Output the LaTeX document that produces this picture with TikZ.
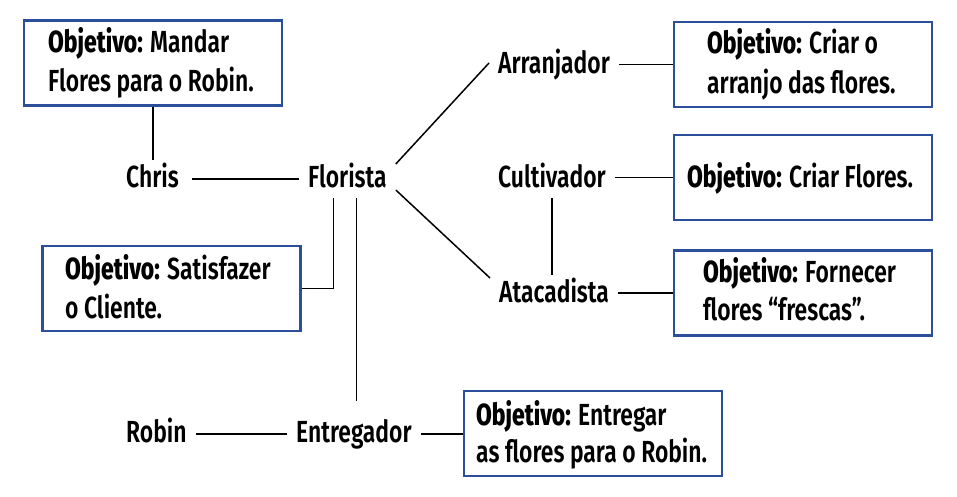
\documentclass[tikz,border=0pt]{standalone}
\usepackage{fontspec}
\setmainfont{Fira Sans}[FakeStretch=0.75, UprightFont=* SemiBold, BoldFont=* ExtraBold]
\definecolor{boxblue}{RGB}{43,79,155}
\begin{document}
\begin{tikzpicture}[x=1pt,y=-1pt,
  lbl/.style={font=\fontsize{30.5}{39}\selectfont, inner xsep=9pt, inner ysep=6pt, text height=21pt, text depth=5pt, anchor=base west},
  btxt/.style={font=\fontsize{30.5}{39}\selectfont, inner sep=0pt, anchor=base west},
  goal/.style={draw=boxblue, line width=2.5pt, minimum width=258pt, minimum height=85pt, inner sep=0pt},
  conn/.style={line width=1.5pt, black}]
\useasboundingbox (0,0) rectangle (957,497);
% goal boxes
\node[goal] (b1) at (153,63) {};
\node[goal] (b2) at (171.5,288.5) {};
\node[goal] (b3) at (803,64.5) {};
\node[goal] (b4) at (803,177.5) {};
\node[goal] (b5) at (803,293) {};
\node[goal] (b6) at (593,433.5) {};
% box texts
\node[btxt] (b1a) at (48,53) {\textbf{Objetivo:} Mandar};
\node[btxt] (b1b) at (48,92) {Flores para o Robin.};
\node[btxt] (b2a) at (65,279) {\textbf{Objetivo:} Satisfazer};
\node[btxt] (b2b) at (65,318) {o Cliente.};
\node[btxt] (b3a) at (707,54) {\textbf{Objetivo:} Criar o};
\node[btxt] (b3b) at (707,94) {arranjo das flores.};
\node[btxt] (b4a) at (687,187) {\textbf{Objetivo:} Criar Flores.};
\node[btxt] (b5a) at (703,282) {\textbf{Objetivo:} Fornecer};
\node[btxt] (b5b) at (703,320) {flores “frescas”.};
\node[btxt] (b6a) at (476,425) {\textbf{Objetivo:} Entregar};
\node[btxt] (b6b) at (476,462) {as flores para o Robin.};
% labels
\node[lbl] (chris) at (117,187) {Chris};
\node[lbl] (florista) at (299,187) {Florista};
\node[lbl] (arranjador) at (489,74) {Arranjador};
\node[lbl] (cultivador) at (489,187) {Cultivador};
\node[lbl] (atacadista) at (490,302) {Atacadista};
\node[lbl] (robin) at (117,442) {Robin};
\node[lbl] (entregador) at (287,442) {Entregador};
% connectors
\draw[conn] (b1.south) -- (b1.south |- chris.north);
\draw[conn] ([xshift=4pt]chris.east) -- (florista.west);
\draw[conn] ([yshift=15pt]florista.east) -- ([yshift=3pt]arranjador.west);
\draw[conn] ([yshift=-11pt]florista.east) -- ([yshift=16pt]atacadista.west);
\draw[conn] ([xshift=-14pt]florista.south) |- (b2.east);
\draw[conn] ([xshift=9pt]florista.south) -- ([xshift=9pt,yshift=14pt]florista.south |- entregador.north);
\draw[conn] (arranjador.east |- b3.west) -- (b3.west);
\draw[conn] (cultivador.east |- b4.west) -- (b4.west);
\draw[conn] (cultivador.south) -- (cultivador.south |- atacadista.north);
\draw[conn] (atacadista.east |- b5.west) -- (b5.west);
\draw[conn] (robin.east) -- (entregador.west);
\draw[conn] (entregador.east) -- (entregador.east -| b6.west);
\end{tikzpicture}
\end{document}
